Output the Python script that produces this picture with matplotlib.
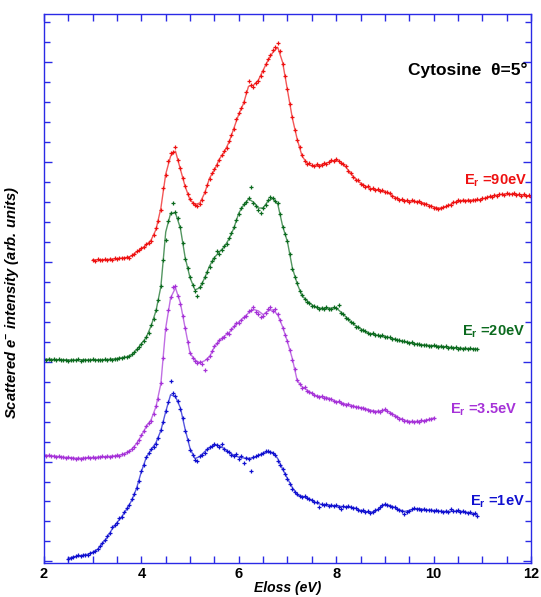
import numpy as np
import matplotlib
matplotlib.use("Agg")
import matplotlib.pyplot as plt
from matplotlib.ticker import MultipleLocator, NullFormatter

plt.rcParams["font.family"] = ["Liberation Sans", "DejaVu Sans"]
plt.rcParams["mathtext.default"] = "regular"

# energy-loss spectra, intensities in arbitrary units (curves stacked with offsets)
# raw points every 0.05 eV
red_pts = [
    15.12, 15.05, 15.13, 15.08, 15.10, 15.15, 15.09, 15.16, 15.12, 15.18,
    15.13, 15.20, 15.22, 15.18, 15.26, 15.21, 15.35, 15.42, 15.55, 15.58,
    15.70, 15.74, 15.90, 15.95, 16.05, 16.35, 16.70, 17.05, 17.60, 18.70,
    19.35, 20.05, 20.45, 20.50, 20.75, 20.10, 19.70, 19.20, 18.80, 18.40,
    18.15, 17.95, 17.85, 17.80, 17.90, 18.10, 18.50, 18.85, 19.15, 19.45,
    19.65, 19.85, 20.10, 20.35, 20.55, 20.70, 21.05, 21.35, 21.65, 22.15,
    22.45, 22.70, 23.00, 23.50, 24.05, 23.85, 23.75, 23.95, 24.05, 24.30,
    24.55, 24.90, 25.15, 25.35, 25.60, 25.75, 25.95, 25.55, 24.92, 24.30,
    23.65, 22.90, 22.25, 21.60, 21.10, 20.75, 20.35, 20.05, 19.90, 19.95,
    19.85, 19.80, 19.90, 19.80, 19.85, 19.95, 19.90, 20.00, 20.10, 20.05,
    20.18, 20.05, 19.95, 19.90, 19.80, 19.55, 19.45, 19.25, 19.10, 19.08,
    18.92, 18.85, 18.75, 18.80, 18.65, 18.70, 18.58, 18.66, 18.55, 18.60,
    18.48, 18.50, 18.45, 18.30, 18.22, 18.20, 18.10, 18.15, 18.05, 18.10,
    18.00, 18.08, 18.05, 17.98, 18.06, 17.95, 17.90, 17.88, 17.80, 17.78,
    17.72, 17.68, 17.65, 17.72, 17.75, 17.80, 17.86, 17.85, 17.98, 18.02,
    18.08, 18.03, 18.12, 18.05, 18.10, 18.04, 18.12, 18.08, 18.14, 18.10,
    18.18, 18.20, 18.25, 18.28, 18.26, 18.35, 18.32, 18.40, 18.42, 18.36,
    18.44, 18.38, 18.42, 18.45, 18.35, 18.40, 18.32, 18.38, 18.28, 18.34,
    18.26,
]
green_pts = [
    10.14, 10.10, 10.13, 10.09, 10.12, 10.08, 10.12, 10.07, 10.11, 10.08,
    10.06, 10.11, 10.07, 10.10, 10.12, 10.06, 10.08, 10.11, 10.07, 10.10,
    10.12, 10.08, 10.11, 10.09, 10.07, 10.12, 10.10, 10.14, 10.11, 10.16,
    10.14, 10.20, 10.18, 10.24, 10.22, 10.30, 10.38, 10.48, 10.62, 10.72,
    10.88, 11.05, 11.26, 11.45, 11.84, 12.15, 12.60, 13.10, 13.80, 15.10,
    16.10, 17.05, 17.45, 17.95, 17.50, 17.20, 16.75, 15.95, 15.15, 14.70,
    14.25, 13.85, 13.55, 13.30, 13.75, 13.95, 14.25, 14.50, 14.75, 15.05,
    15.20, 15.55, 15.40, 15.62, 15.80, 15.90, 16.20, 16.45, 16.75, 17.10,
    17.40, 17.70, 17.90, 18.00, 18.22, 18.75, 17.95, 17.80, 17.62, 17.45,
    17.68, 17.85, 18.10, 18.25, 18.20, 18.05, 17.95, 17.40, 16.75, 16.40,
    16.05, 15.40, 14.65, 14.25, 13.95, 13.55, 13.35, 13.15, 13.00, 12.95,
    12.80, 12.78, 12.75, 12.62, 12.70, 12.64, 12.72, 12.66, 12.65, 12.72,
    12.68, 12.85, 12.45, 12.38, 12.20, 12.12, 11.98, 11.92, 11.75, 11.72,
    11.60, 11.58, 11.55, 11.45, 11.38, 11.42, 11.32, 11.36, 11.28, 11.33,
    11.24, 11.25, 11.22, 11.15, 11.12, 11.10, 11.08, 11.02, 11.03, 10.98,
    10.94, 10.97, 10.90, 10.88, 10.90, 10.84, 10.82, 10.86, 10.80, 10.78,
    10.82, 10.77, 10.76, 10.79, 10.74, 10.77, 10.71, 10.74, 10.69, 10.72,
    10.66, 10.70, 10.65, 10.68, 10.63, 10.67, 10.64, 10.62, 10.65,
]
purple_pts = [
    5.35, 5.30, 5.32, 5.27, 5.29, 5.25, 5.27, 5.22, 5.24, 5.20,
    5.22, 5.17, 5.19, 5.15, 5.18, 5.14, 5.19, 5.16, 5.21, 5.18,
    5.22, 5.19, 5.24, 5.21, 5.26, 5.22, 5.27, 5.24, 5.29, 5.26,
    5.32, 5.29, 5.36, 5.40, 5.47, 5.55, 5.65, 5.75, 5.95, 6.10,
    6.35, 6.55, 6.80, 6.95, 7.05, 7.40, 7.80, 8.15, 8.95, 10.20,
    11.65, 12.60, 13.25, 13.75, 13.80, 13.30, 12.90, 12.30, 11.70, 11.00,
    10.45, 10.20, 10.05, 9.95, 10.00, 9.90, 9.60, 10.12, 10.30, 10.55,
    10.80, 10.95, 11.10, 11.20, 11.25, 11.45, 11.40, 11.65, 11.80, 11.95,
    11.92, 12.10, 12.25, 12.30, 12.52, 12.60, 12.75, 12.50, 12.40, 12.25,
    12.30, 12.45, 12.65, 12.72, 12.55, 12.62, 12.38, 12.10, 11.70, 11.35,
    11.05, 10.60, 10.10, 9.65, 9.10, 8.90, 8.70, 8.72, 8.55, 8.50,
    8.45, 8.35, 8.30, 8.22, 8.28, 8.20, 8.18, 8.15, 8.15, 8.05,
    7.98, 8.02, 7.92, 7.90, 7.85, 7.88, 7.80, 7.78, 7.72, 7.74,
    7.66, 7.70, 7.62, 7.60, 7.55, 7.52, 7.48, 7.55, 7.50, 7.58,
    7.62, 7.52, 7.45, 7.38, 7.30, 7.22, 7.15, 7.12, 7.05, 7.04,
    6.98, 7.02, 6.97, 7.04, 7.00, 7.06, 7.03, 7.08, 7.12, 7.14,
    7.20,
]
blue_pts = [
    0.12, 0.18, 0.20, 0.25, 0.30, 0.26, 0.33, 0.32, 0.34, 0.40,
    0.47, 0.52, 0.62, 0.75, 0.92, 1.05, 1.25, 1.40, 1.70, 1.80,
    1.90, 2.15, 2.20, 2.45, 2.65, 2.80, 3.10, 3.35, 3.70, 4.05,
    4.55, 4.85, 5.25, 5.45, 5.65, 5.75, 5.90, 6.20, 6.60, 7.00,
    7.55, 8.00, 9.05, 8.45, 8.30, 8.05, 7.65, 7.20, 6.55, 6.10,
    5.60, 5.35, 5.10, 5.05, 5.30, 5.35, 5.45, 5.62, 5.72, 5.78,
    5.90, 5.85, 5.75, 5.90, 5.62, 5.55, 5.48, 5.35, 5.30, 5.38,
    5.15, 5.28, 4.95, 5.20, 5.12, 4.55, 5.22, 5.30, 5.35, 5.40,
    5.45, 5.52, 5.55, 5.50, 5.42, 5.35, 5.05, 4.85, 4.65, 4.40,
    4.12, 3.90, 3.65, 3.45, 3.35, 3.28, 3.22, 3.25, 3.15, 3.10,
    3.08, 2.98, 2.95, 2.70, 2.88, 2.82, 2.85, 2.78, 2.82, 2.76,
    2.80, 2.74, 2.60, 2.78, 2.70, 2.75, 2.72, 2.66, 2.68, 2.58,
    2.52, 2.56, 2.45, 2.50, 2.42, 2.48, 2.55, 2.62, 2.72, 2.82,
    2.88, 2.84, 2.78, 2.74, 2.72, 2.62, 2.55, 2.52, 2.35, 2.48,
    2.52, 2.60, 2.65, 2.60, 2.62, 2.58, 2.63, 2.56, 2.55, 2.58,
    2.52, 2.55, 2.50, 2.54, 2.48, 2.52, 2.47, 2.60, 2.53, 2.50,
    2.55, 2.49, 2.52, 2.46, 2.43, 2.47, 2.35, 2.40, 2.28,
]

# smoothed fits every 0.1 eV
red_fit = [
    15.10, 15.10, 15.11, 15.12, 15.14, 15.16, 15.19, 15.22, 15.30, 15.50,
    15.65, 15.85, 16.10, 16.62, 17.69, 19.40, 20.30, 20.55, 19.65, 18.77,
    18.10, 17.88, 17.95, 18.45, 19.20, 19.60, 20.15, 20.50, 21.00, 21.70,
    22.40, 22.95, 23.80, 23.85, 24.10, 24.60, 25.10, 25.50, 25.75, 25.00,
    23.60, 22.20, 21.14, 20.30, 19.95, 19.80, 19.82, 19.88, 19.95, 20.05,
    20.10, 20.00, 19.75, 19.42, 19.15, 18.95, 18.80, 18.68, 18.62, 18.58,
    18.52, 18.40, 18.25, 18.12, 18.08, 18.05, 18.03, 18.02, 17.95, 17.85,
    17.75, 17.69, 17.72, 17.82, 17.95, 18.05, 18.08, 18.08, 18.10, 18.10,
    18.15, 18.22, 18.30, 18.35, 18.38, 18.40, 18.40, 18.38, 18.36, 18.32,
    18.28,
]
green_fit = [
    10.12, 10.12, 10.11, 10.10, 10.10, 10.09, 10.09, 10.09, 10.10, 10.09,
    10.09, 10.10, 10.10, 10.11, 10.13, 10.16, 10.20, 10.24, 10.34, 10.59,
    10.90, 11.22, 11.80, 12.55, 13.76, 16.50, 17.43, 17.45, 16.70, 15.20,
    14.20, 13.60, 13.70, 14.20, 14.80, 15.22, 15.50, 15.75, 16.15, 16.70,
    17.45, 17.85, 18.15, 18.00, 17.70, 17.70, 18.05, 18.18, 17.90, 16.80,
    16.00, 14.70, 13.90, 13.30, 13.06, 12.85, 12.70, 12.68, 12.68, 12.68,
    12.70, 12.48, 12.25, 12.00, 11.80, 11.65, 11.50, 11.40, 11.35, 11.30,
    11.27, 11.20, 11.14, 11.06, 11.00, 10.96, 10.92, 10.87, 10.84, 10.82,
    10.80, 10.78, 10.76, 10.73, 10.71, 10.69, 10.67, 10.66, 10.65, 10.64,
]
purple_fit = [
    5.33, 5.30, 5.28, 5.25, 5.22, 5.20, 5.18, 5.16, 5.17, 5.19,
    5.20, 5.22, 5.24, 5.25, 5.27, 5.30, 5.34, 5.45, 5.62, 5.90,
    6.30, 6.75, 7.10, 7.75, 8.90, 11.70, 13.20, 13.70, 12.95, 11.67,
    10.42, 10.09, 9.95, 10.05, 10.25, 10.75, 11.05, 11.28, 11.46, 11.75,
    12.00, 12.20, 12.45, 12.62, 12.55, 12.36, 12.55, 12.60, 12.35, 11.75,
    11.00, 10.15, 9.05, 8.75, 8.58, 8.42, 8.28, 8.25, 8.22, 8.12,
    8.00, 7.95, 7.88, 7.82, 7.75, 7.70, 7.65, 7.58, 7.52, 7.52,
    7.56, 7.48, 7.32, 7.18, 7.08, 7.01, 7.00, 7.02, 7.05, 7.10,
    7.18,
]
blue_fit = [
    0.15, 0.22, 0.27, 0.30, 0.36, 0.45, 0.60, 0.90, 1.20, 1.62,
    1.95, 2.25, 2.62, 3.05, 3.65, 4.50, 5.20, 5.60, 5.95, 6.55,
    7.50, 8.35, 8.25, 7.70, 6.60, 5.65, 5.15, 5.25, 5.50, 5.70,
    5.82, 5.80, 5.65, 5.45, 5.32, 5.22, 5.18, 5.16, 5.18, 5.30,
    5.42, 5.48, 5.45, 5.15, 4.62, 4.15, 3.70, 3.32, 3.26, 3.20,
    3.05, 2.92, 2.85, 2.82, 2.80, 2.78, 2.75, 2.73, 2.70, 2.66,
    2.55, 2.48, 2.46, 2.50, 2.68, 2.85, 2.80, 2.70, 2.58, 2.50,
    2.55, 2.62, 2.64, 2.60, 2.57, 2.55, 2.52, 2.50, 2.50, 2.51,
    2.52, 2.50, 2.45, 2.38, 2.32,
]

# (label, colour, first eV, last eV, points, fit)
spectra = [
    ("E$_r$ =90eV", "#ee1111", 3.0, 12.0, red_pts, red_fit),
    ("E$_r$ =20eV", "#0b6a1e", 2.0, 10.9, green_pts, green_fit),
    ("E$_r$ =3.5eV", "#a632d8", 2.0, 10.0, purple_pts, purple_fit),
    ("E$_r$ =1eV", "#1010d0", 2.5, 10.9, blue_pts, blue_fit),
]
label_pos = [(0.992, 0.696), (0.988, 0.421), (0.971, 0.279), (0.988, 0.111)]

fig = plt.figure(figsize=(5.41, 5.97), dpi=100)
ax = fig.add_axes([0.0813, 0.057, 0.9002, 0.9196])

for (lab, col, e0, e1, pts, fit), (tx, ty) in zip(spectra, label_pos):
    e_pts = np.linspace(e0, e1, len(pts))
    e_fit = np.linspace(e0, e1, len(fit))
    ax.plot(e_fit, fit, color=col, lw=1.0, alpha=0.7)
    ax.plot(e_pts, pts, ls="none", marker="+", ms=3.5, mew=0.9, color=col)
    ax.text(tx, ty, lab, transform=ax.transAxes, ha="right", va="center",
            color=col, fontsize=10.5, fontweight="bold")

ax.text(0.992, 0.898, "Cytosine  θ=5°", transform=ax.transAxes,
        ha="right", va="center", fontsize=12.5, fontweight="bold")

ax.set_xlim(2, 12)
ax.set_ylim(-0.08, 27.42)
ax.xaxis.set_major_locator(MultipleLocator(2))
ax.xaxis.set_minor_locator(MultipleLocator(0.5))
ax.yaxis.set_major_locator(MultipleLocator(5))
ax.yaxis.set_minor_locator(MultipleLocator(1))
ax.yaxis.set_major_formatter(NullFormatter())

axis_blue = "#2a2ae6"
for s in ax.spines.values():
    s.set_color(axis_blue)
    s.set_linewidth(1.0)
ax.tick_params(which="both", direction="in", top=True, right=True,
               color=axis_blue, width=1.0)
ax.tick_params(axis="x", which="both", length=5)
ax.tick_params(axis="y", which="major", length=6)
ax.tick_params(axis="y", which="minor", length=4)
ax.tick_params(axis="x", labelsize=10.5, pad=3)
for t in ax.get_xticklabels():
    t.set_fontweight("bold")

ax.set_xlabel("Eloss (eV)", fontsize=10, fontweight="bold", style="italic", labelpad=0)
ax.set_ylabel("Scattered e$^{-}$ intensity (arb. units)", fontsize=10.6,
              fontweight="bold", style="italic")
ax.yaxis.set_label_coords(-0.048, 0.474)

fig.savefig("out.png", dpi=100)
